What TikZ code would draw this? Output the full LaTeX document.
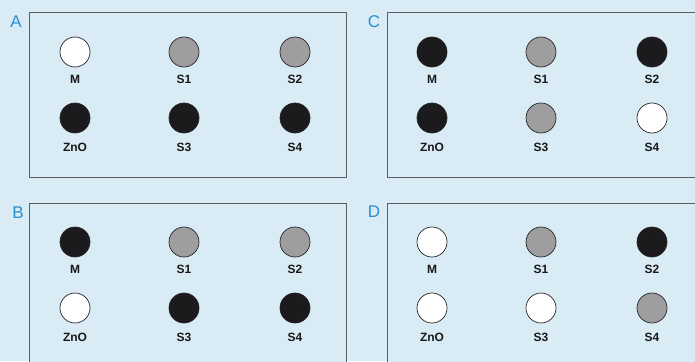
\documentclass[tikz,border=0pt]{standalone}
\usepackage{fontspec}
\setmainfont{Liberation Sans}
\definecolor{bgblue}{HTML}{D9EBF5}
\definecolor{boxline}{HTML}{5A5E63}
\definecolor{dotgray}{HTML}{9E9E9E}
\definecolor{dotblack}{HTML}{1B1A1C}
\definecolor{letterblue}{HTML}{2A8FD0}
\tikzset{
  panelbox/.style={draw=boxline, line width=1pt, fill=bgblue},
  dot/.style={circle, draw=black!85, line width=0.7pt, minimum size=30pt, inner sep=0pt},
  wdot/.style={dot, fill=white},
  gdot/.style={dot, fill=dotgray},
  bdot/.style={dot, fill=dotblack},
  lbl/.style={font=\fontsize{12}{13}\selectfont\bfseries, text=black!90, inner sep=0pt},
  plett/.style={font=\fontsize{17}{17}\selectfont, text=letterblue, inner sep=0pt},
}
\newcommand{\mypanel}[9]{%
  % #1 name, #2 bx, #3 by, #4..#9 styles of M S1 S2 ZnO S3 S4
  \begin{scope}[shift={(#2pt,-#3pt)}]
    \node[#4] (#1M) at (46pt,-39pt) {};
    \node[#5] (#1S1) at (155pt,-39pt) {};
    \node[#6] (#1S2) at (266pt,-39pt) {};
    \node[#7] (#1ZnO) at (46pt,-105pt) {};
    \node[#8] (#1S3) at (155pt,-105pt) {};
    \node[#9] (#1S4) at (266pt,-105pt) {};
    \node[lbl] (#1Ml) at (46pt,-66pt) {M};
    \node[lbl] (#1S1l) at (155pt,-66pt) {S1};
    \node[lbl] (#1S2l) at (266pt,-66pt) {S2};
    \node[lbl] (#1ZnOl) at (46pt,-134pt) {ZnO};
    \node[lbl] (#1S3l) at (155pt,-134pt) {S3};
    \node[lbl] (#1S4l) at (266pt,-134pt) {S4};
  \end{scope}}
\begin{document}
\begin{tikzpicture}
\useasboundingbox (0,0) rectangle (695pt,-361pt);
\clip (0,0) rectangle (695pt,-361pt);
\fill[bgblue] (0,0) rectangle (695pt,-361pt);
\draw[panelbox] (29pt,-13pt) rectangle (346pt,-177pt);
\draw[panelbox] (387pt,-13pt) rectangle (705pt,-177pt);
\draw[panelbox] (29pt,-203pt) rectangle (346pt,-370pt);
\draw[panelbox] (387pt,-203pt) rectangle (705pt,-370pt);
\node[plett] (LA) at (16pt,-22pt) {A};
\node[plett] (LC) at (374pt,-22pt) {C};
\node[plett] (LB) at (18pt,-213pt) {B};
\node[plett] (LD) at (374pt,-212pt) {D};
\mypanel{A}{29}{13}{wdot}{gdot}{gdot}{bdot}{bdot}{bdot}
\mypanel{C}{386}{13}{bdot}{gdot}{bdot}{bdot}{gdot}{wdot}
\mypanel{B}{29}{203}{bdot}{gdot}{gdot}{wdot}{bdot}{bdot}
\mypanel{D}{386}{203}{wdot}{gdot}{bdot}{wdot}{wdot}{gdot}
\end{tikzpicture}
\end{document}
